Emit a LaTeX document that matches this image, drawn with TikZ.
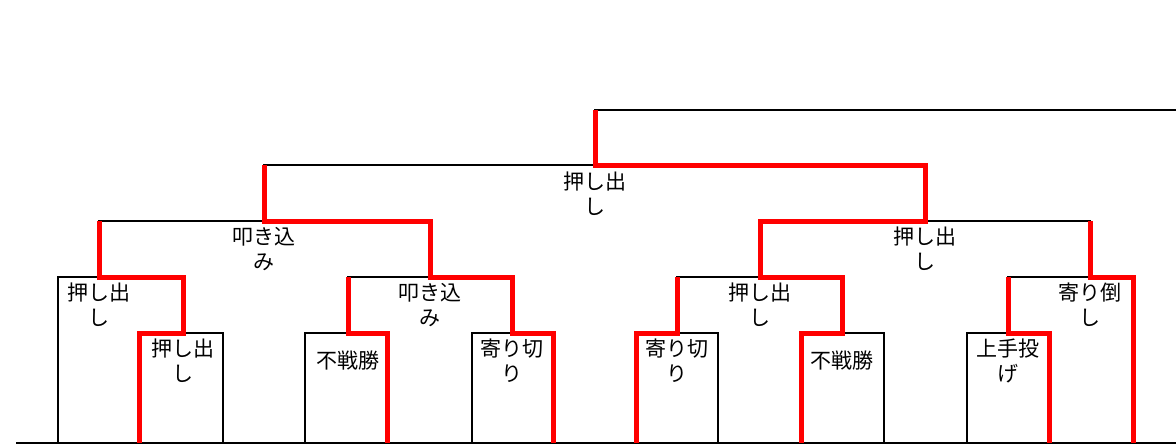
\documentclass[tikz,border=0pt]{standalone}
\usepackage{fontspec}
\setmainfont{Noto Sans CJK JP}
\tikzstyle{bracket} = [draw=black, line width=2pt]
\tikzstyle{winner} = [draw=red, line width=5pt]
\tikzstyle{kimarite} = [align=center, inner sep=0pt, font=\fontsize{21}{25}\selectfont]

\begin{document}
\begin{tikzpicture}[x=1pt, y=-1pt]
    \useasboundingbox (0,0) rectangle (1176,444);

    % match points
    \coordinate (fin) at (595,110);
    \coordinate (finEnd) at (1176,110);
    \coordinate (sf) at (595,165);
    \coordinate (qfL) at (264,221);
    \coordinate (qfR) at (925,221);
    \coordinate (r3a) at (99,277);
    \coordinate (r3b) at (430,277);
    \coordinate (r3c) at (760,277);
    \coordinate (r3d) at (1090,277);
    \coordinate (r4a) at (183,333);
    \coordinate (r4b) at (348,333);
    \coordinate (r4c) at (512,333);
    \coordinate (r4d) at (677,333);
    \coordinate (r4e) at (842,333);
    \coordinate (r4f) at (1008,333);

    % leaves
    \coordinate (l1) at (58,443);
    \coordinate (l2) at (139,443);
    \coordinate (l3) at (223,443);
    \coordinate (l4) at (305,443);
    \coordinate (l5) at (387,443);
    \coordinate (l6) at (472,443);
    \coordinate (l7) at (553,443);
    \coordinate (l8) at (636,443);
    \coordinate (l9) at (718,443);
    \coordinate (l10) at (801,443);
    \coordinate (l11) at (884,443);
    \coordinate (l12) at (967,443);
    \coordinate (l13) at (1049,443);
    \coordinate (l14) at (1133,443);
    \coordinate (baseL) at (16,443);
    \coordinate (baseR) at (1176,443);

    \draw [bracket] (baseL) -- (baseR);
    \draw [bracket] (sf) -- (fin) -- (finEnd);
    \draw [bracket] (qfL) |- (sf) -| (qfR);
    \draw [bracket] (r3a) |- (qfL) -| (r3b);
    \draw [bracket] (r3c) |- (qfR) -| (r3d);
    \draw [bracket] (l1) |- (r3a) -| (r4a);
    \draw [bracket] (r4b) |- (r3b) -| (r4c);
    \draw [bracket] (r4d) |- (r3c) -| (r4e);
    \draw [bracket] (r4f) |- (r3d) -| (l14);
    \draw [bracket] (l2) |- (r4a) -| (l3);
    \draw [bracket] (l4) |- (r4b) -| (l5);
    \draw [bracket] (l6) |- (r4c) -| (l7);
    \draw [bracket] (l8) |- (r4d) -| (l9);
    \draw [bracket] (l10) |- (r4e) -| (l11);
    \draw [bracket] (l12) |- (r4f) -| (l13);

    % winners
    \draw [winner] (l2) |- (r4a) |- (r3a) -- (r3a |- qfL);
    \draw [winner] (l5) |- (r4b) -- (r4b |- r3b);
    \draw [winner] (l7) |- (r4c) |- (r3b) |- (qfL) -- (qfL |- sf);
    \draw [winner] (l8) |- (r4d) -- (r4d |- r3c);
    \draw [winner] (l10) |- (r4e) |- (r3c) |- (qfR) |- (sf) -- (fin);
    \draw [winner] (l13) |- (r4f) -- (r4f |- r3d);
    \draw [winner] (l14) |- (r3d) -- (r3d |- qfR);

    \node [kimarite] (ksf) at ([yshift=-29pt]sf) {押し出\\し};
    \node [kimarite] (kqfL) at ([yshift=-28pt]qfL) {叩き込\\み};
    \node [kimarite] (kqfR) at ([yshift=-28pt]qfR) {押し出\\し};
    \node [kimarite] (k3a) at ([yshift=-28pt]r3a) {押し出\\し};
    \node [kimarite] (k3b) at ([yshift=-28pt]r3b) {叩き込\\み};
    \node [kimarite] (k3c) at ([yshift=-28pt]r3c) {押し出\\し};
    \node [kimarite] (k3d) at ([yshift=-28pt]r3d) {寄り倒\\し};
    \node [kimarite] (k4a) at ([yshift=-28pt]r4a) {押し出\\し};
    \node [kimarite] (k4b) at ([yshift=-28pt]r4b) {不戦勝};
    \node [kimarite] (k4c) at ([yshift=-28pt]r4c) {寄り切\\り};
    \node [kimarite] (k4d) at ([yshift=-28pt]r4d) {寄り切\\り};
    \node [kimarite] (k4e) at ([yshift=-28pt]r4e) {不戦勝};
    \node [kimarite] (k4f) at ([yshift=-28pt]r4f) {上手投\\げ};

\end{tikzpicture}
\end{document}
